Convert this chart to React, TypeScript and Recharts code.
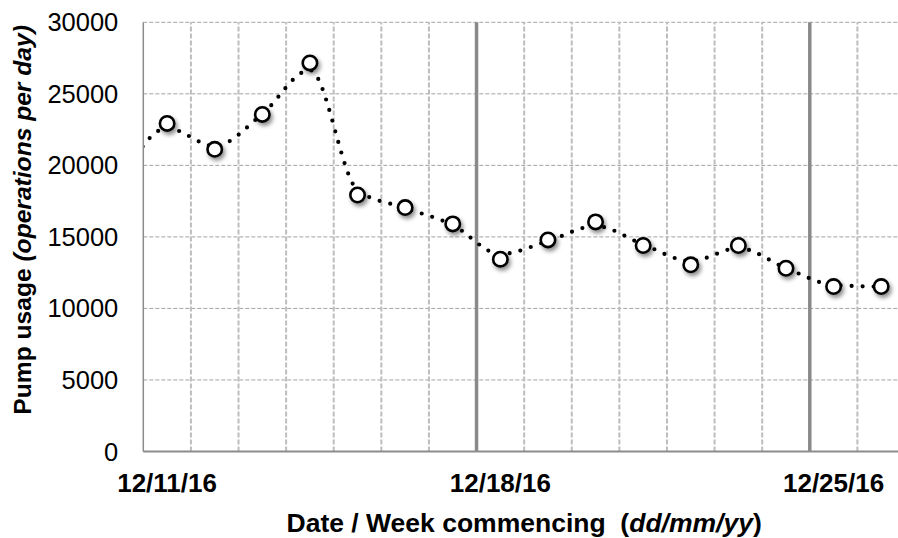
import React from 'react';
import { LineChart, Line, XAxis, YAxis, CartesianGrid, ReferenceLine } from 'recharts';

const dates = [
  '12/10/16', '12/11/16', '12/12/16', '12/13/16', '12/14/16', '12/15/16', '12/16/16', '12/17/16',
  '12/18/16', '12/19/16', '12/20/16', '12/21/16', '12/22/16', '12/23/16', '12/24/16', '12/25/16', '12/26/16',
];
// markers (white circles)
const usage = [
  null, 22930, 21120, 23560, 27160, 17930, 17050, 15910,
  13440, 14790, 16050, 14400, 13050, 14400, 12810, 11530, 11530,
];
// dotted smoothed line
const trend = [
  18700, 22600, 21350, 23590, 26660, 18270, 17020, 15830,
  13800, 14710, 15760, 14470, 13310, 14220, 12820, 11640, 11520,
];
const xTickLabels = ['12/11/16', '12/18/16', '12/25/16'];
const weekStarts = ['12/18/16', '12/25/16'];
const yTicks = [0, 5000, 10000, 15000, 20000, 25000, 30000];

const FONT = '"Liberation Sans", Arial, Helvetica, sans-serif';

const center = (d: string) => dates.indexOf(d) - 0.5;
const table = dates.map((d, i) => ({ pos: i - 0.5, date: d, usage: usage[i], trend: trend[i] }));
const dayEdges = dates.slice(2).map((d) => center(d) - 0.5);
const weekEdges = weekStarts.map((d) => center(d) - 0.5);
const xTicks = xTickLabels.map(center);

const CircleDot = (props: any) => {
  const { cx, cy, index } = props;
  if (cy == null || cx == null || Number.isNaN(cy)) return <g key={`n${index}`} />;
  return (
    <circle
      key={`c${index}`}
      cx={cx}
      cy={cy}
      r={7.2}
      fill="#ffffff"
      stroke="#000000"
      strokeWidth={2.6}
      filter="url(#dotShadow)"
    />
  );
};

const XTitle = (props: any) => {
  const vb = props.viewBox || { x: 0, y: 0, width: 0 };
  return (
    <text
      x={vb.x + vb.width / 2}
      y={vb.y + 80.5}
      textAnchor="middle"
      fontFamily={FONT}
      fontWeight="bold"
      fontSize={26.5}
      fill="#000"
      style={{ whiteSpace: 'pre' }}
    >
      <tspan>{'Date / Week commencing  ('}</tspan>
      <tspan fontStyle="italic">dd/mm/yy</tspan>
      <tspan>)</tspan>
    </text>
  );
};

const YTitle = (props: any) => {
  const vb = props.viewBox || { x: 0, y: 0, height: 0 };
  const cx = 31;
  const cy = vb.y + vb.height / 2 - 17;
  return (
    <text
      x={cx}
      y={cy}
      transform={`rotate(-90, ${cx}, ${cy})`}
      textAnchor="middle"
      fontFamily={FONT}
      fontWeight="bold"
      fontSize={24.6}
      fill="#000"
      style={{ whiteSpace: 'pre' }}
    >
      <tspan>{'Pump usage '}</tspan>
      <tspan fontStyle="italic">(operations per day)</tspan>
    </text>
  );
};

export default function App() {
  return (
    <div style={{ position: 'absolute', left: 0, top: 0, width: 898, height: 538, overflow: 'hidden', background: '#fff' }}>
      <LineChart
        width={905}
        height={538}
        data={table}
        margin={{ top: 22.3, right: 0, bottom: 0, left: 0 }}
      >
        <defs>
          <filter id="dotShadow" x="-60%" y="-60%" width="220%" height="220%">
            <feDropShadow dx="2" dy="3" stdDeviation="2" floodColor="#000" floodOpacity="0.45" />
          </filter>
        </defs>
        <CartesianGrid vertical={false} stroke="#a3a3a3" strokeDasharray="4 2" strokeWidth={1} />
        {dayEdges
          .filter((v) => !weekEdges.includes(v))
          .map((v) => (
            <ReferenceLine key={`g${v}`} x={v} stroke="#bdbdbd" strokeWidth={2} strokeDasharray="5 2" />
          ))}
        {weekEdges.map((v) => (
          <ReferenceLine key={`w${v}`} x={v} stroke="#8a8a8a" strokeWidth={3.5} />
        ))}
        <XAxis
          dataKey="pos"
          type="number"
          domain={[0, 16]}
          allowDataOverflow
          ticks={xTicks}
          interval={0}
          tickFormatter={(v: number) => dates[Math.round(v + 0.5)]}
          tickLine={false}
          tickSize={0}
          tickMargin={22}
          height={86.5}
          axisLine={{ stroke: '#8c8c8c', strokeWidth: 2 }}
          tick={{ fontFamily: FONT, fontWeight: 'bold', fontSize: 26, fill: '#000' }}
          label={{ content: XTitle }}
        />
        <YAxis
          type="number"
          domain={[0, 30000]}
          ticks={yTicks}
          interval={0}
          width={143.3}
          tickLine={false}
          tickSize={0}
          tickMargin={25}
          axisLine={{ stroke: '#8c8c8c', strokeWidth: 1.5 }}
          tick={{ fontFamily: FONT, fontSize: 25.5, fill: '#000' }}
          label={{ content: YTitle }}
        />
        <Line
          dataKey="trend"
          type="monotone"
          stroke="#000"
          strokeWidth={4.2}
          strokeDasharray="0 11"
          strokeLinecap="round"
          dot={false}
          activeDot={false}
          isAnimationActive={false}
        />
        <Line
          dataKey="usage"
          type="monotone"
          stroke="none"
          dot={CircleDot}
          activeDot={false}
          isAnimationActive={false}
        />
      </LineChart>
    </div>
  );
}
